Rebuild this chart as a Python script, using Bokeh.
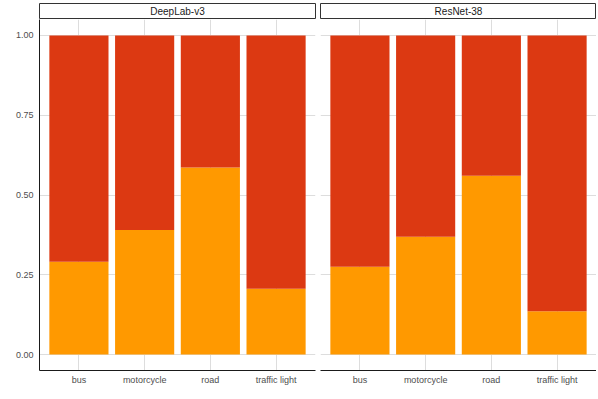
from bokeh.plotting import figure
from bokeh.layouts import column, row
from bokeh.models import FactorRange, Range1d, FixedTicker
from bokeh.core.properties import value
from bokeh.embed import file_html
from bokeh.resources import INLINE

# ---- data ----
categories = ["bus", "motorcycle", "road", "traffic light"]
panels = ["DeepLab-v3", "ResNet-38"]
stack_names = ["lower", "upper"]
deeplab_lower = [0.291, 0.390, 0.586, 0.206]
deeplab_upper = [0.709, 0.610, 0.414, 0.794]
resnet_lower = [0.275, 0.369, 0.560, 0.136]
resnet_upper = [0.725, 0.631, 0.440, 0.864]
y_ticks = [0.0, 0.25, 0.5, 0.75, 1.0]
y_tick_labels = ["0.00", "0.25", "0.50", "0.75", "1.00"]

colors = ["#FF9900", "#DC3912"]
FONT = "Liberation Sans"
GRID = "#DDDDDD"


def make_strip(title, left_border, right_border):
    s = figure(frame_width=276, frame_height=16, x_range=Range1d(0, 1), y_range=Range1d(0, 1),
               output_backend="svg", toolbar_location=None,
               min_border_left=left_border, min_border_right=right_border,
               min_border_top=0, min_border_bottom=0,
               x_axis_location=None, y_axis_location=None)
    s.grid.visible = False
    s.outline_line_color = "#333333"
    s.outline_line_width = 1
    s.background_fill_color = "white"
    s.text(x=[0.5], y=[0.5], text=[title], text_align="center", text_baseline="middle",
           text_font=value(FONT), text_font_size="10px", text_color="#1A1A1A")
    return s


def make_panel(lower, upper, left_border, right_border, show_y):
    p = figure(x_range=FactorRange(*categories, range_padding=0.1, range_padding_units="absolute"),
               y_range=Range1d(-0.05, 1.05),
               frame_width=276, frame_height=351,
               output_backend="svg", toolbar_location=None,
               min_border_left=left_border, min_border_right=right_border,
               min_border_top=0, min_border_bottom=22)
    data = {"cat": categories, "lower": lower, "upper": upper}
    p.vbar_stack(stack_names, x="cat", width=0.9, color=colors, source=data, line_color=None)
    p.outline_line_color = None
    p.background_fill_color = "white"
    p.xgrid.grid_line_color = GRID
    p.ygrid.grid_line_color = GRID
    p.xgrid.grid_line_width = 1
    p.ygrid.grid_line_width = 1
    p.yaxis.ticker = FixedTicker(ticks=y_ticks)
    p.yaxis.major_label_overrides = dict(zip(y_ticks, y_tick_labels))
    for ax in (p.xaxis[0], p.yaxis[0]):
        ax.major_tick_out = 0
        ax.major_tick_in = 0
        ax.minor_tick_out = 0
        ax.minor_tick_in = 0
        ax.axis_line_color = "#1A1A1A"
        ax.axis_line_width = 1
        ax.major_label_text_font = FONT
        ax.major_label_text_font_size = "9px"
        ax.major_label_text_color = "#4D4D4D"
    p.xaxis.major_label_standoff = 4
    p.yaxis.major_label_standoff = 6
    if not show_y:
        p.yaxis.visible = False
    return p


s1 = make_strip(panels[0], 39, 2)
s2 = make_strip(panels[1], 3, 0)
p1 = make_panel(deeplab_lower, deeplab_upper, 39, 2, True)
p2 = make_panel(resnet_lower, resnet_upper, 3, 0, False)

layout = column(row(s1, s2, spacing=0), row(p1, p2, spacing=0), spacing=0, margin=(3, 0, 0, 0))

open("out.html", "w").write(file_html(layout, INLINE))
